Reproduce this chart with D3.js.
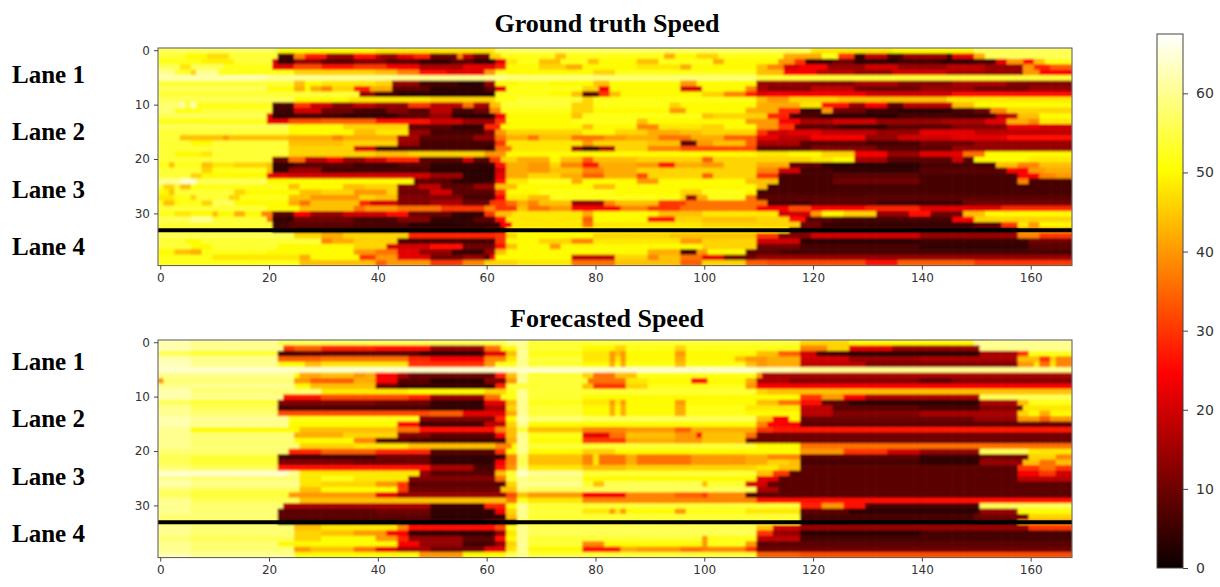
<!DOCTYPE html>
<html>
<head>
<meta charset="utf-8">
<script src="https://cdn.jsdelivr.net/npm/d3@7"></script>
<style>
  html, body { margin: 0; padding: 0; background: #fff; }
  .tick text { font-family: "DejaVu Sans", sans-serif; fill: #333; }
  .serif { font-family: "Liberation Serif", serif; font-weight: bold; fill: #000; }
</style>
</head>
<body>
<div id="chart"></div>
<script>
const truthRows = [
  [56,22,50,40,48,62,56,120,48,135,50,150,56,168],
  [54,5,50,9,47,13,54,22,6,25,38,27,27,31,14,36,26,40,18,41,14,44,22,47,28,50,10,55,38,56,18,58,10,61,46,63,52,73,44,75,52,93,42,95,50,99,46,103,52,115,42,122,52,125,30,128,5,130,18,134,6,137,14,145,5,146,22,150,42,152,56,168],
  [52,8,49,14,54,21,20,22,4,25,14,30,8,36,12,42,8,48,4,54,8,58,4,62,22,64,48,66,52,70,44,74,52,79,44,81,50,88,44,92,52,102,42,104,50,114,40,117,30,119,5,124,10,128,3,136,6,144,3,150,6,154,22,156,40,159,25,161,44,163,52,168],
  [56,4,48,6,56,12,52,21,22,25,32,30,26,36,30,42,24,48,16,56,22,62,28,64,50,70,46,75,42,78,50,88,48,96,42,98,50,110,44,112,38,115,20,118,24,123,14,130,20,136,14,145,18,152,14,159,40,161,28,164,34,168],
  [60,3,54,6,46,7,60,11,52,25,46,40,44,44,38,48,26,53,22,60,40,62,52,64,50,80,46,84,52,110,44,115,24,121,18,128,14,135,20,145,16,152,14,159,40,162,24,168],
  [62,20,60,64,58,110,54,168],
  [54,25,44,27,50,30,48,40,46,43,14,48,6,55,3,60,14,62,50,66,52,72,50,80,44,83,50,96,40,99,50,110,14,120,12,128,16,136,12,146,16,156,12,168],
  [56,20,50,25,42,27,50,28,42,30,38,32,46,36,28,39,42,43,8,50,3,60,8,62,22,64,52,78,46,81,24,83,50,96,20,100,50,108,38,110,16,112,12,120,18,128,10,140,14,150,10,160,14,168],
  [54,37,14,40,6,44,3,62,52,72,50,76,44,78,8,81,30,83,44,85,50,100,46,104,38,108,28,110,22,112,24,130,20,146,26,168],
  [56,25,50,35,48,50,46,62,52,66,54,78,46,80,52,110,44,112,40,116,46,125,44,145,48,168],
  [58,4,62,5,54,6,62,7,52,21,6,25,30,28,20,32,12,36,18,40,14,46,30,50,18,56,36,58,16,61,44,63,54,76,46,80,52,94,46,96,50,110,42,118,48,122,26,127,14,130,24,134,8,137,18,146,44,150,50,168],
  [58,3,52,8,54,21,5,25,20,30,10,36,6,42,12,46,8,50,18,54,6,58,10,61,38,63,52,76,46,80,50,94,40,97,50,108,42,114,28,118,5,122,40,124,10,130,5,136,3,146,6,150,10,153,38,156,46,168],
  [56,20,22,21,4,25,6,34,4,44,8,50,14,54,3,62,24,64,50,76,44,78,52,100,44,102,46,112,28,116,6,122,3,136,6,146,5,154,18,158,44,162,50,168],
  [52,20,22,24,32,30,34,40,26,50,20,56,14,62,30,64,50,76,52,88,44,90,50,108,40,114,24,118,16,124,20,132,14,144,16,152,22,156,42,160,38,162,48,168],
  [56,24,50,34,46,46,8,54,4,60,28,63,50,78,44,80,50,88,38,92,48,100,46,104,50,110,40,114,30,117,8,125,4,134,8,146,12,156,22,162,20,168],
  [54,24,50,36,44,40,48,46,14,50,6,60,12,62,40,64,46,78,50,84,46,90,42,96,44,100,46,110,30,112,20,116,22,122,18,132,14,140,22,150,18,168],
  [54,4,44,12,40,13,44,24,42,32,38,34,42,44,16,48,8,58,14,62,36,64,42,68,36,70,44,76,36,82,40,86,42,92,36,98,42,104,34,110,22,114,18,120,24,130,14,136,20,146,22,156,26,168],
  [54,6,50,10,54,24,44,34,46,44,14,48,6,62,30,64,48,78,40,80,46,90,44,96,8,99,40,102,44,108,34,110,16,118,8,130,6,140,10,150,14,168],
  [54,24,46,36,20,40,6,60,4,62,36,65,48,76,14,78,6,81,16,84,46,90,38,96,32,110,8,120,12,132,8,146,14,168],
  [54,3,50,8,48,10,54,24,46,40,44,46,46,60,40,64,50,110,48,116,50,122,46,128,24,134,14,140,22,148,36,152,50,168],
  [54,21,10,24,36,27,18,31,24,34,14,38,20,42,28,48,8,56,20,58,8,61,30,63,46,66,42,72,50,74,44,78,34,80,44,88,46,100,34,102,46,110,46,120,48,124,50,128,16,134,8,146,20,148,8,150,50,160,48,168],
  [52,2,44,3,52,8,44,10,48,14,46,20,44,21,4,25,8,36,5,44,8,50,4,62,26,64,42,68,40,72,46,74,38,78,26,81,42,88,40,92,26,95,42,100,40,104,46,110,42,116,8,122,3,140,6,154,44,158,38,162,44,168],
  [54,8,46,10,52,20,44,21,4,24,14,30,6,50,3,62,20,64,42,68,40,72,44,78,38,82,42,88,46,100,46,110,38,114,20,118,6,124,4,140,8,156,24,160,40,163,42,168],
  [54,6,46,8,50,20,22,24,20,50,14,56,3,62,22,64,42,68,46,74,42,78,34,82,42,88,32,90,46,100,34,102,46,110,30,114,6,124,8,140,6,158,24,162,38,165,40,168],
  [60,4,64,7,56,20,50,47,8,54,4,62,26,64,48,68,52,76,42,78,50,88,40,92,50,108,44,114,6,124,10,140,6,158,38,160,6,168],
  [54,1,46,3,54,4,44,6,52,24,44,26,50,34,44,38,46,44,12,48,18,52,8,58,14,62,44,66,50,80,44,84,50,110,44,112,6,168],
  [50,2,44,3,54,14,46,16,50,26,44,30,46,36,40,42,46,44,10,50,20,54,8,62,30,64,50,70,52,84,50,96,46,100,52,108,50,110,6,168],
  [48,3,52,6,46,7,54,13,46,15,52,24,44,28,40,37,46,40,44,44,12,56,6,62,24,64,48,68,44,72,52,96,46,97,14,99,42,101,52,108,36,110,8,168],
  [52,1,44,3,50,4,52,8,46,10,56,14,50,24,42,26,36,28,44,37,28,39,20,44,12,50,16,56,10,61,30,64,36,66,42,68,38,70,44,76,14,82,38,84,44,92,30,97,36,112,6,120,8,132,5,148,10,168],
  [54,20,50,26,44,36,36,38,40,44,36,52,30,60,38,62,30,66,44,68,36,72,40,76,24,85,38,90,30,96,36,110,24,116,32,120,24,130,28,140,22,155,28,168],
  [52,3,48,6,50,10,44,11,50,14,42,16,50,19,38,21,8,25,24,28,14,34,20,42,26,46,10,54,4,60,30,62,44,65,48,78,42,80,50,92,44,100,48,114,20,120,40,122,50,126,46,132,14,138,26,142,10,148,44,152,50,168],
  [56,6,60,10,54,20,36,21,4,25,10,36,6,44,12,50,4,58,8,62,26,64,48,78,34,80,50,90,26,95,46,100,44,110,46,116,26,119,8,124,6,146,24,150,46,168],
  [54,21,5,24,8,36,6,46,3,56,4,63,24,65,48,78,36,80,48,100,46,118,10,122,4,150,8,155,30,158,48,160,40,162,50,168],
  [54,21,6,60,10,64,50,116,8,158,40,168],
  [56,25,46,30,42,34,46,46,28,62,30,64,46,66,50,80,46,94,44,110,30,114,12,120,20,140,14,158,38,162,30,168],
  [54,5,50,8,54,30,38,32,42,36,46,44,6,62,30,64,50,70,46,76,38,80,48,96,40,100,46,110,20,118,3,140,5,160,10,168],
  [54,6,50,10,54,22,50,36,46,42,20,50,26,56,10,62,26,64,44,66,50,72,40,74,50,100,46,110,10,118,6,140,4,160,8,168],
  [50,3,44,6,42,8,52,20,50,36,40,40,36,44,22,48,14,54,4,60,14,62,44,64,50,90,42,96,6,99,40,101,50,108,8,114,6,168],
  [52,10,48,26,42,28,50,37,30,40,40,44,22,50,10,56,14,60,6,61,24,62,50,76,18,84,46,90,38,92,44,96,36,100,22,104,10,110,14,168],
  [52,26,44,40,34,42,40,50,30,56,38,60,46,66,48,76,36,84,44,96,34,100,46,108,34,112,32,130,26,136,34,150,30,168]
];

const forecastRows = [
  [62,6,60,22,56,64,60,68,54,118,46,127,50,150,60,168],
  [62,6,60,23,30,25,34,30,28,40,26,50,14,60,36,63,50,66,60,68,54,78,50,84,46,86,52,95,46,97,52,118,38,123,46,127,22,135,14,151,60,168],
  [56,6,54,22,6,26,8,48,3,60,22,64,44,66,60,68,52,78,48,83,40,84,44,85,40,86,50,95,40,97,50,110,44,114,34,118,20,121,6,127,3,151,16,158,30,160,52,168],
  [62,6,60,22,34,30,36,46,28,50,24,60,38,64,48,66,60,68,54,78,48,83,40,84,48,85,40,86,50,95,42,97,50,106,44,108,40,112,42,118,20,127,14,140,16,158,44,162,30,164,46,165,38,168],
  [63,6,60,22,50,27,44,30,48,46,30,60,40,62,52,66,60,68,54,78,50,83,42,84,50,85,42,86,52,95,44,97,52,108,44,110,40,112,42,118,18,130,12,158,40,161,48,162,36,164,48,165,38,168],
  [64,110,62,118,60,168],
  [60,25,50,26,42,30,44,36,40,38,42,40,24,44,16,46,10,62,28,64,44,66,60,68,54,78,46,80,36,84,44,88,52,110,40,111,16,168],
  [40,1,58,25,40,28,34,36,42,40,24,44,8,50,3,60,12,64,40,66,60,68,54,79,36,86,48,90,50,98,26,101,50,108,42,110,16,116,12,140,8,146,12,168],
  [60,25,50,28,44,40,10,44,5,62,28,64,54,78,44,80,30,86,46,90,52,108,40,110,24,168],
  [62,6,58,30,48,46,50,60,46,64,52,66,60,68,54,110,46,112,44,168],
  [62,6,60,23,26,30,32,46,28,50,14,60,36,63,52,66,60,68,54,78,50,118,30,122,40,126,24,130,16,151,56,168],
  [56,6,54,22,12,40,10,50,4,60,22,64,44,66,60,68,52,78,48,83,40,84,48,85,40,86,50,95,40,97,50,110,44,114,36,118,26,122,8,127,3,151,16,158,44,160,52,168],
  [60,6,56,22,6,50,4,60,16,64,46,66,60,68,54,78,50,83,42,84,50,85,42,86,50,95,42,97,52,108,48,118,18,124,8,140,6,151,12,159,48,168],
  [60,6,58,22,32,50,34,56,22,64,42,66,60,68,54,78,50,83,42,84,50,85,42,86,50,95,42,97,52,108,50,118,18,124,12,140,16,158,46,160,50,162,42,164,50,168],
  [62,6,60,24,52,48,12,62,28,64,50,66,62,68,58,78,56,110,44,113,24,116,50,118,10,150,14,158,40,162,34,164,40,168],
  [62,6,60,24,50,44,24,48,5,60,18,64,46,66,60,68,50,110,38,112,24,118,8,168],
  [60,6,50,26,44,44,36,48,26,62,38,64,44,66,54,68,44,78,38,86,40,95,34,98,42,110,30,113,27,168],
  [60,6,58,25,42,34,46,44,12,50,8,62,24,64,44,66,60,68,52,78,22,83,36,86,44,95,40,99,24,100,44,108,36,110,10,168],
  [60,6,58,25,50,36,38,40,8,46,6,64,42,66,60,68,50,78,30,86,42,95,40,100,44,108,10,168],
  [60,6,58,26,46,36,48,46,44,62,38,65,50,66,60,68,54,110,50,118,36,168],
  [58,24,28,30,34,40,28,50,8,62,30,64,50,66,60,68,50,78,46,84,50,118,40,126,30,134,20,140,14,151,56,160,48,168],
  [56,6,54,22,6,40,10,50,4,64,38,66,56,68,44,78,38,80,48,81,36,86,42,88,36,98,40,108,42,112,38,118,8,140,4,151,10,160,46,165,38,168],
  [56,6,54,22,12,36,10,50,4,62,24,64,38,66,56,68,44,78,38,80,48,81,36,86,42,88,36,98,40,108,42,112,46,116,44,118,6,140,4,151,14,159,44,162,36,165,44,168],
  [58,6,56,22,26,50,16,58,6,62,26,64,40,66,58,68,48,78,44,86,46,110,48,114,44,118,8,158,30,162,36,165,30,168],
  [64,24,60,26,48,48,14,50,8,62,44,64,54,66,64,68,60,78,54,110,44,113,30,116,8,158,24,162,30,165,20,168],
  [60,6,58,26,48,30,52,36,48,46,12,62,36,64,54,66,60,68,58,78,50,110,22,114,8,158,18,168],
  [62,6,60,26,48,30,46,40,40,44,30,46,8,64,46,66,60,68,60,78,54,80,44,82,56,100,44,101,54,108,20,112,8,168],
  [58,6,56,26,44,30,50,44,30,46,10,63,44,66,58,68,56,110,16,114,8,168],
  [56,6,54,24,40,40,22,44,14,64,32,66,44,68,40,78,24,86,38,95,34,100,30,101,38,108,8,168],
  [60,6,56,26,44,64,36,66,52,68,48,78,38,110,26,168],
  [60,6,58,23,16,50,5,60,28,64,50,66,60,68,54,118,28,122,40,126,26,130,6,151,56,168],
  [60,6,58,22,8,40,10,50,4,62,24,64,46,66,60,68,54,78,48,83,40,84,48,85,40,86,50,95,40,97,52,108,48,118,8,127,3,151,14,158,50,168],
  [58,22,8,50,3,64,44,66,60,68,54,118,6,150,10,160,46,168],
  [58,22,6,60,12,66,54,118,6,158,40,168],
  [60,6,58,25,44,30,48,44,38,46,26,62,32,64,52,66,60,68,56,110,44,113,20,118,14,160,30,168],
  [60,6,58,25,46,30,44,36,40,42,24,46,3,62,14,64,48,66,60,68,56,110,30,113,14,118,3,140,6,168],
  [58,6,56,25,46,30,50,40,40,44,28,46,14,56,8,62,26,64,50,66,60,68,54,100,40,101,52,110,18,118,6,168],
  [60,6,58,22,50,44,24,48,14,56,6,62,14,64,46,66,60,68,54,78,38,82,50,100,40,101,52,108,40,110,8,168],
  [60,6,58,25,40,28,44,36,36,40,22,44,16,50,10,60,22,64,48,66,60,68,50,78,26,85,42,88,40,96,36,100,38,108,30,110,10,168],
  [62,6,60,25,50,48,40,56,50,64,56,66,60,68,54,110,34,118,32,168]
];

const xTicks = [0, 20, 40, 60, 80, 100, 120, 140, 160];
const yTicks = [0, 10, 20, 30];
const barTicks = [0, 10, 20, 30, 40, 50, 60];
const laneLabels = ["Lane 1", "Lane 2", "Lane 3", "Lane 4"];
const dividerRow = 33;
const speedMax = 67.5;

const width = 1220;
const height = 587;
const columns = d3.range(168);
const rows = d3.range(40);

const svg = d3.select("#chart")
    .append("svg")
    .attr("width", width)
    .attr("height", height)
    .style("display", "block");

const defs = svg.append("defs");
defs.append("filter")
    .attr("id", "soft")
    .append("feGaussianBlur")
    .attr("stdDeviation", 1);

// matplotlib "hot"
const color = d3.scaleLinear()
    .domain([0, 0.365 * speedMax, 0.746 * speedMax, speedMax])
    .range(["#0b0000", "#ff0000", "#ffff00", "#ffffff"])
    .clamp(true);

const x = d3.scaleBand().domain(columns).range([158, 1072]);

function decodeRow(runs) {
    const cells = [];
    for (let i = 0; i < runs.length; i += 2) {
        while (cells.length < runs[i + 1]) cells.push(runs[i]);
    }
    return cells;
}

function drawPanel(name, data, top, title, titleY, laneY) {
    const y = d3.scaleBand().domain(rows).range([top, top + 217.6]);
    const g = svg.append("g");

    defs.append("clipPath").attr("id", `clip-${name}`)
        .append("rect")
        .attr("x", x.range()[0]).attr("y", top)
        .attr("width", x.range()[1] - x.range()[0]).attr("height", 217.6);

    g.append("g")
        .attr("clip-path", `url(#clip-${name})`)
        .append("g")
        .attr("filter", "url(#soft)")
        .selectAll("g")
        .data(data)
        .enter().append("g")
        .attr("transform", (d, i) => `translate(0,${y(i)})`)
        .selectAll("rect")
        .data(d => decodeRow(d))
        .enter().append("rect")
        .attr("x", (d, i) => x(i))
        .attr("width", x.bandwidth() + 0.6)
        .attr("height", y.bandwidth() + 0.6)
        .attr("fill", d => color(d));

    // divider between lanes 3 and 4
    g.append("line")
        .attr("x1", x.range()[0]).attr("x2", x.range()[1])
        .attr("y1", y(dividerRow) + y.bandwidth() / 2)
        .attr("y2", y(dividerRow) + y.bandwidth() / 2)
        .attr("stroke", "#000")
        .attr("stroke-width", 4);

    g.append("rect")
        .attr("x", x.range()[0]).attr("y", top)
        .attr("width", x.range()[1] - x.range()[0]).attr("height", 217.6)
        .attr("fill", "none")
        .attr("stroke", "#555");

    const xAxis = g.append("g")
        .attr("transform", `translate(0,${top + 217.6})`)
        .call(d3.axisBottom(x).tickValues(xTicks).tickSize(4).tickPadding(4));
    const yAxis = g.append("g")
        .attr("transform", `translate(${x.range()[0]},0)`)
        .call(d3.axisLeft(y).tickValues(yTicks).tickSize(4).tickPadding(4));
    [xAxis, yAxis].forEach(a => {
        a.select(".domain").remove();
        a.selectAll("line").attr("stroke", "#444");
        a.selectAll("text").style("font-size", "12px");
    });

    svg.append("text")
        .attr("class", "serif")
        .attr("x", 607).attr("y", titleY)
        .attr("text-anchor", "middle")
        .style("font-size", "26px")
        .text(title);

    svg.selectAll(null)
        .data(laneLabels)
        .enter().append("text")
        .attr("class", "serif")
        .attr("x", 12)
        .attr("y", (d, i) => laneY[i])
        .style("font-size", "25px")
        .text(d => d);
}

drawPanel("truth", truthRows, 48, "Ground truth Speed", 32, [83, 140, 198, 255]);
drawPanel("forecast", forecastRows, 340, "Forecasted Speed", 327, [370, 427, 485, 542]);

// colorbar
const barY = d3.scaleLinear().domain([0, speedMax]).range([568, 34]);
const gradient = defs.append("linearGradient")
    .attr("id", "hot").attr("x1", 0).attr("x2", 0).attr("y1", 1).attr("y2", 0);
gradient.selectAll("stop")
    .data(color.domain())
    .enter().append("stop")
    .attr("offset", d => d / speedMax)
    .attr("stop-color", d => color(d));

svg.append("rect")
    .attr("x", 1157).attr("y", barY(speedMax))
    .attr("width", 26).attr("height", barY(0) - barY(speedMax))
    .attr("fill", "url(#hot)")
    .attr("stroke", "#444");

const barAxis = svg.append("g")
    .attr("transform", "translate(1183,0)")
    .call(d3.axisRight(barY).tickValues(barTicks).tickSize(5).tickPadding(8));
barAxis.select(".domain").remove();
barAxis.selectAll("line").attr("stroke", "#444");
barAxis.selectAll("text").style("font-size", "14px");
</script>
</body>
</html>
